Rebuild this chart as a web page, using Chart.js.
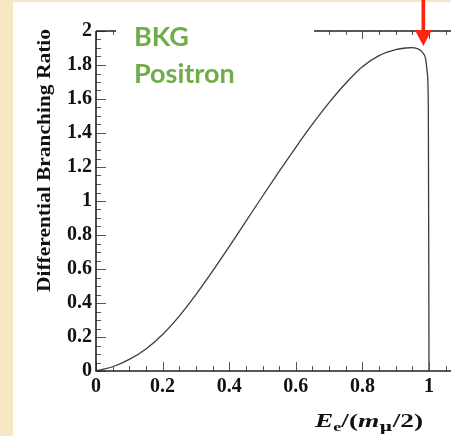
<!DOCTYPE html>
<html><head><meta charset="utf-8">
<script src="https://cdn.jsdelivr.net/npm/chart.js@4/dist/chart.umd.min.js"></script>
<style>
html,body{margin:0;padding:0;width:451px;height:436px;overflow:hidden;background:#f7e8c4}
#wrap{position:absolute;left:0;top:0;width:451px;height:436px}
canvas{position:absolute;left:0;top:0}
#box{position:absolute;left:116px;top:18px;width:198px;height:77px;background:#fff}
.lbl{position:absolute;left:134px;font-family:Lato,"Open Sans",sans-serif;font-weight:700;font-size:27px;line-height:37px;color:#70ad47;white-space:nowrap}
</style></head>
<body>
<div id="wrap"><canvas id="c" width="451" height="436"></canvas>
<div id="box"></div>
<div class="lbl" style="top:17px">BKG</div>
<div class="lbl" style="top:54px">Positron</div>
</div>
<script>
// ---- data ----
const energyFraction = [0,0.02,0.05,0.1,0.15,0.2,0.25,0.3,0.35,0.4,0.45,0.5,0.55,0.6,0.65,0.7,0.75,0.8,0.85,0.9,0.93,0.95,0.97,0.98,0.99,0.995,0.998,1.0];
const branchingRatio = [0,0.009,0.025,0.068,0.130,0.215,0.323,0.449,0.587,0.732,0.880,1.028,1.174,1.316,1.452,1.579,1.693,1.790,1.855,1.890,1.900,1.902,1.892,1.875,1.835,1.75,1.55,0];
const xTickValues = [0,0.2,0.4,0.6,0.8,1];
const xTickLabels = ["0","0.2","0.4","0.6","0.8","1"];
const yTickValues = [0,0.2,0.4,0.6,0.8,1,1.2,1.4,1.6,1.8,2];
const yTickLabels = ["0","0.2","0.4","0.6","0.8","1","1.2","1.4","1.6","1.8","2"];
const yTitle = "Differential Branching Ratio";
const arrowX = 0.983;

const tickFont = {family:"'Liberation Serif', serif", weight:'bold', size:20};

const deco = {
  id:'deco',
  beforeDraw(chart){
    const c = chart.ctx;
    c.save();
    c.fillStyle = '#f7e8c4'; c.fillRect(0,0,451,436);
    c.fillStyle = '#ffffff'; c.fillRect(13,2,438,434);
    c.restore();
  },
  afterDraw(chart){
    const c = chart.ctx, a = chart.chartArea, x = chart.scales.x, y = chart.scales.y;
    c.save();
    c.strokeStyle = '#555'; c.lineWidth = 1;
    for (let i=0;i<=40;i++){
      const py = Math.round(y.getPixelForValue(i*0.05))+0.5;
      const len = (i%4===0)?10:5;
      c.beginPath(); c.moveTo(a.left,py); c.lineTo(a.left+len,py); c.stroke();
    }
    for (let i=0;i*0.05<=x.max+1e-9;i++){
      const px = Math.round(x.getPixelForValue(i*0.05))+0.5;
      const major = i%4===0;
      c.beginPath(); c.moveTo(px,a.bottom); c.lineTo(px,a.bottom-(major?9:5)); c.stroke();
      c.beginPath(); c.moveTo(px,a.top); c.lineTo(px,a.top+(major?8:4)); c.stroke();
    }
    c.strokeStyle = '#222'; c.lineWidth = 1.6;
    c.beginPath();
    c.moveTo(a.left,a.top); c.lineTo(a.left,a.bottom); c.lineTo(a.right,a.bottom);
    c.moveTo(a.left,a.top); c.lineTo(a.right,a.top);
    c.stroke();
    // y title
    c.fillStyle = '#111';
    c.font = "bold 18px 'Liberation Serif', serif";
    c.textBaseline = 'alphabetic'; c.textAlign = 'left';
    const w = c.measureText(yTitle).width;
    c.save();
    c.translate(50, 292);
    c.rotate(-Math.PI/2);
    c.scale(263/w, 1);
    c.fillText(yTitle, 0, 0);
    c.restore();
    // x title
    const parts = [
      {t:'E', f:"italic bold 18px 'Liberation Serif', serif", dy:0},
      {t:'e', f:"bold 12px 'Liberation Serif', serif", dy:4},
      {t:'/(', f:"bold 18px 'Liberation Serif', serif", dy:0},
      {t:'m', f:"italic bold 18px 'Liberation Serif', serif", dy:0},
      {t:'\u03bc', f:"bold 12px 'DejaVu Serif', serif", dy:4},
      {t:'/2)', f:"bold 18px 'Liberation Serif', serif", dy:0}
    ];
    let tot = 0;
    parts.forEach(p=>{ c.font=p.f; p.w=c.measureText(p.t).width; tot+=p.w; });
    c.save();
    c.translate(315, 426.5);
    c.scale(108/tot, 1);
    let cx = 0;
    parts.forEach(p=>{ c.font=p.f; c.fillText(p.t, cx, p.dy); cx+=p.w; });
    c.restore();
    // red arrow
    const ax = x.getPixelForValue(arrowX);
    c.fillStyle = '#ff2412';
    c.fillRect(ax-1.8, 0, 3.6, 31);
    c.beginPath(); c.moveTo(ax-8.5,30); c.lineTo(ax+8.5,30); c.lineTo(ax,46); c.closePath(); c.fill();
    c.restore();
  }
};

new Chart(document.getElementById('c'), {
  type:'line',
  data:{ datasets:[{
    data: energyFraction.map((v,i)=>({x:v, y:branchingRatio[i]})),
    borderColor:'#3c3c3c', borderWidth:1.3, pointRadius:0, fill:false,
    cubicInterpolationMode:'monotone'
  }]},
  options:{
    responsive:false, animation:false, events:[],
    layout:{padding:{top:31,left:0,right:0,bottom:0}},
    plugins:{legend:{display:false}, tooltip:{enabled:false}},
    scales:{
      x:{type:'linear', min:0, max:(451-96)/333,
        afterFit(s){ s.height = 65; },
        afterBuildTicks(s){ s.ticks = xTickValues.map(v=>({value:v})); },
        grid:{display:false, drawTicks:false}, border:{display:false},
        ticks:{font:tickFont, color:'#111', padding:4, maxRotation:0, autoSkip:false,
          callback:(v,i)=>xTickLabels[i]}
      },
      y:{type:'linear', min:0, max:2,
        afterFit(s){ s.width = 96; },
        afterBuildTicks(s){ s.ticks = yTickValues.map(v=>({value:v})); },
        grid:{display:false, drawTicks:false}, border:{display:false},
        ticks:{font:tickFont, color:'#111', padding:4, autoSkip:false,
          callback:(v,i)=>yTickLabels[i]}
      }
    }
  },
  plugins:[deco]
});
</script>
</body></html>
